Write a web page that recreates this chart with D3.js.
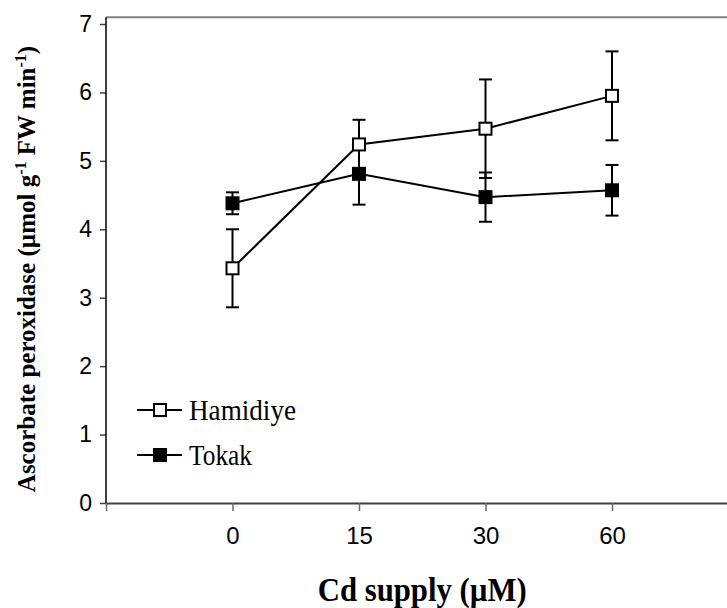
<!DOCTYPE html>
<html>
<head>
<meta charset="utf-8">
<script src="https://cdn.jsdelivr.net/npm/d3@7"></script>
<style>
  body { margin: 0; background: #fff; }
</style>
</head>
<body>
<script>
// Cd supply levels (µM)
const categories = ["0", "15", "30", "60"];
const series = ["Hamidiye", "Tokak"];
const hamidiye = [3.43, 5.24, 5.47, 5.95];
const hamidiyeErr = [0.57, 0.36, 0.72, 0.65];
const tokak = [4.38, 4.81, 4.47, 4.57];
const tokakErr = [0.16, 0.45, 0.36, 0.37];
const yTicks = [0, 1, 2, 3, 4, 5, 6, 7];

const width = 727;
const height = 608;

const svg = d3.select("body").append("svg")
  .attr("width", width)
  .attr("height", height);

// first slot is the axis origin, last one runs past the right edge
const x = d3.scalePoint()
  .domain(["start", ...categories, "end"])
  .range([106, 738.5]);

const y = d3.scaleLinear()
  .domain([0, 7])
  .range([503, 24]);

const plotTop = y(7.1);

// top frame line
svg.append("line")
  .attr("x1", 106).attr("x2", width)
  .attr("y1", plotTop).attr("y2", plotTop)
  .attr("stroke", "#808080").attr("stroke-width", 2);

// y axis
const yAxis = svg.append("g")
  .attr("transform", "translate(106,0)")
  .call(d3.axisLeft(y).tickValues(yTicks).tickFormat(d3.format("d"))
    .tickSize(6).tickSizeOuter(0).tickPadding(8));
yAxis.select(".domain").remove();
yAxis.append("line")
  .attr("y1", y(0)).attr("y2", plotTop)
  .attr("stroke", "#000").attr("stroke-width", 1.5);
yAxis.selectAll(".tick line").attr("stroke", "#444").attr("stroke-width", 1.5);
yAxis.selectAll(".tick text")
  .attr("font-family", "Liberation Sans, Arial, sans-serif")
  .attr("font-size", 23)
  .attr("fill", "#000");

// x axis
const xAxis = svg.append("g")
  .attr("transform", `translate(0,${y(0)})`)
  .call(d3.axisBottom(x)
    .tickValues(["start", ...categories])
    .tickFormat(d => d === "start" ? "" : d)
    .tickSize(8).tickSizeOuter(0).tickPadding(16));
xAxis.select(".domain").attr("stroke", "#404040").attr("stroke-width", 2);
xAxis.selectAll(".tick line").attr("stroke", "#666").attr("stroke-width", 1.5);
xAxis.selectAll(".tick text")
  .attr("font-family", "Liberation Sans, Arial, sans-serif")
  .attr("font-size", 24)
  .attr("fill", "#000");

// axis titles
svg.append("text")
  .attr("x", (x("0") + x("60")) / 2)
  .attr("y", 601)
  .attr("text-anchor", "middle")
  .attr("font-family", "Liberation Serif, Times New Roman, serif")
  .attr("font-weight", "bold")
  .attr("font-size", 34)
  .attr("textLength", 209)
  .attr("lengthAdjust", "spacingAndGlyphs")
  .text("Cd supply (µM)");

const yTitle = svg.append("text")
  .attr("transform", "translate(35,269) rotate(-90)")
  .attr("text-anchor", "middle")
  .attr("font-family", "Liberation Serif, Times New Roman, serif")
  .attr("font-weight", "bold")
  .attr("font-size", 25);
yTitle.append("tspan").text("Ascorbate peroxidase (µmol g");
yTitle.append("tspan").attr("font-size", 16).attr("dy", -9).text("-1");
yTitle.append("tspan").attr("dy", 9).text(" FW min");
yTitle.append("tspan").attr("font-size", 16).attr("dy", -9).text("-1");
yTitle.append("tspan").attr("dy", 9).text(")");

const line = d3.line()
  .x((d, i) => x(categories[i]))
  .y(d => y(d));

function drawSeries(values, errs, fill) {
  const g = svg.append("g");
  g.append("path")
    .attr("d", line(values))
    .attr("fill", "none")
    .attr("stroke", "#000")
    .attr("stroke-width", 2);

  const bars = g.selectAll(".err").data(values).join("g");
  bars.append("line")
    .attr("x1", (d, i) => x(categories[i])).attr("x2", (d, i) => x(categories[i]))
    .attr("y1", (d, i) => y(d - errs[i])).attr("y2", (d, i) => y(d + errs[i]))
    .attr("stroke", "#000").attr("stroke-width", 2);
  [-1, 1].forEach(s => {
    bars.append("line")
      .attr("x1", (d, i) => x(categories[i]) - 6.5).attr("x2", (d, i) => x(categories[i]) + 6.5)
      .attr("y1", (d, i) => y(d + s * errs[i])).attr("y2", (d, i) => y(d + s * errs[i]))
      .attr("stroke", "#000").attr("stroke-width", 2);
  });

  g.selectAll("rect").data(values).join("rect")
    .attr("x", (d, i) => x(categories[i]) - 6)
    .attr("y", d => y(d) - 6)
    .attr("width", 12).attr("height", 12)
    .attr("fill", fill)
    .attr("stroke", "#000").attr("stroke-width", 2);
}

drawSeries(tokak, tokakErr, "#000");
drawSeries(hamidiye, hamidiyeErr, "#fff");

// legend
const legend = svg.append("g");
const legendRows = [
  {name: series[0], fill: "#fff", cy: 410, len: 107},
  {name: series[1], fill: "#000", cy: 455, len: 63}
];
legendRows.forEach(r => {
  legend.append("line")
    .attr("x1", 137).attr("x2", 182)
    .attr("y1", r.cy).attr("y2", r.cy)
    .attr("stroke", "#000").attr("stroke-width", 2);
  legend.append("rect")
    .attr("x", 154).attr("y", r.cy - 6)
    .attr("width", 12).attr("height", 12)
    .attr("fill", r.fill).attr("stroke", "#000").attr("stroke-width", 2);
  legend.append("text")
    .attr("x", 189).attr("y", r.cy + 10)
    .attr("font-family", "Liberation Serif, Times New Roman, serif")
    .attr("font-size", 29)
    .attr("textLength", r.len)
    .attr("lengthAdjust", "spacingAndGlyphs")
    .text(r.name);
});
</script>
</body>
</html>
